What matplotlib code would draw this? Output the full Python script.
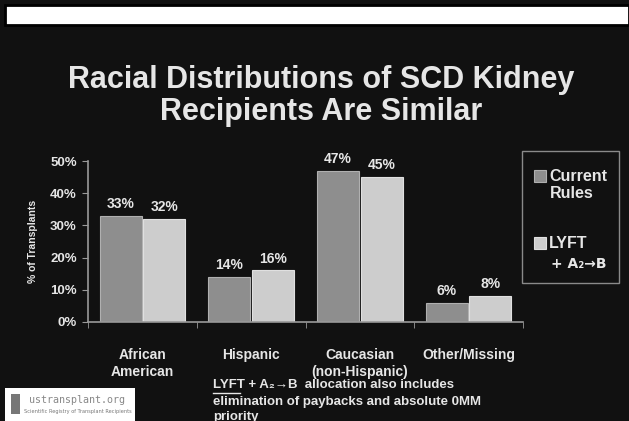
import matplotlib.pyplot as plt
import matplotlib.patches as patches
import numpy as np

# data
categories = ["African\nAmerican", "Hispanic", "Caucasian\n(non-Hispanic)", "Other/Missing"]
current_rules = [33, 14, 47, 6]
lyft_a2b = [32, 16, 45, 8]
yticks = [0, 10, 20, 30, 40, 50]

BG = '#111111'
C_CUR = '#8e8e8e'
C_LYFT = '#cdcdcd'
TXT = '#e6e6e6'

W, H = 629, 421
fig = plt.figure(figsize=(W / 100, H / 100), dpi=100, facecolor=BG)


def fx(px):
    return px / W


def fy(py):
    return 1 - py / H


# white band on top
fig.patches.append(patches.Rectangle((fx(5), fy(25)), 1 - fx(5), fy(5) - fy(25),
                                     transform=fig.transFigure, facecolor='white',
                                     edgecolor='black', linewidth=2))

# title
fig.text(0.51, fy(80), "Racial Distributions of SCD Kidney", ha='center', va='center',
         color=TXT, fontsize=22, fontweight='bold', family='Liberation Sans')
fig.text(0.51, fy(112), "Recipients Are Similar", ha='center', va='center',
         color=TXT, fontsize=22, fontweight='bold', family='Liberation Sans')

ax = fig.add_axes([fx(88), fy(322), fx(523) - fx(88), fy(161) - fy(322)])
ax.set_facecolor(BG)

x = np.arange(len(categories))
bw = 0.385
off = 0.2
b1 = ax.bar(x - off, current_rules, bw, color=C_CUR, edgecolor='#b0b0b0', linewidth=0.8)
b2 = ax.bar(x + off, lyft_a2b, bw, color=C_LYFT, edgecolor='#e0e0e0', linewidth=0.8)
for bars, vals in ((b1, current_rules), (b2, lyft_a2b)):
    for b, v in zip(bars, vals):
        ax.text(b.get_x() + b.get_width() / 2, v + 1.5, f"{v}%", ha='center', va='bottom',
                color=TXT, fontsize=10, fontweight='bold', family='Liberation Sans')

ax.set_xlim(-0.5, 3.5)
ax.set_ylim(0, 50)
ax.set_yticks(yticks)
ax.set_yticklabels([f"{t}%" for t in yticks], color=TXT, fontsize=9.5, fontweight='bold',
                   family='Liberation Sans')
ax.set_xticks(x)
ax.set_xticklabels(categories, color=TXT, fontsize=10, fontweight='bold',
                   family='Liberation Sans', linespacing=1.2)
ax.tick_params(axis='x', length=0, pad=19)
ax.set_xticks(np.arange(-0.5, 4, 1), minor=True)
ax.tick_params(axis='x', which='minor', length=4, color='#999999', direction='out')
ax.tick_params(axis='y', length=4, color='#999999', pad=4)
for s in ('top', 'right'):
    ax.spines[s].set_visible(False)
for s in ('left', 'bottom'):
    ax.spines[s].set_color('#999999')
    ax.spines[s].set_linewidth(1.2)
ax.set_ylabel("% of Transplants", color=TXT, fontsize=7.5, fontweight='bold',
              family='Liberation Sans', labelpad=9)

# legend box
fig.patches.append(patches.Rectangle((fx(522), fy(283)), fx(619) - fx(522), fy(151) - fy(283),
                                     transform=fig.transFigure, facecolor=BG,
                                     edgecolor='#8a8a8a', linewidth=1))
fig.patches.append(patches.Rectangle((fx(534), fy(182)), fx(12), fy(170) - fy(182),
                                     transform=fig.transFigure, facecolor=C_CUR,
                                     edgecolor='#b0b0b0', linewidth=0.8))
fig.patches.append(patches.Rectangle((fx(534), fy(249)), fx(12), fy(237) - fy(249),
                                     transform=fig.transFigure, facecolor=C_LYFT,
                                     edgecolor='#e0e0e0', linewidth=0.8))
leg_kw = dict(color=TXT, fontsize=11.5, fontweight='bold', family='Liberation Sans', va='center')
fig.text(fx(549), fy(176), "Current", **leg_kw)
fig.text(fx(550), fy(193), "Rules", **leg_kw)
fig.text(fx(549), fy(243), "LYFT", **leg_kw)
fig.text(fx(551), fy(264), "+ A\u2082\u2192B", color=TXT, fontsize=10, fontweight='bold',
         family='DejaVu Sans', va='center')

# footnote
foot_kw = dict(color=TXT, fontsize=9.5, fontweight='bold', family='Liberation Sans', va='center')
fig.text(fx(213), fy(385), "LYFT + A\u2082\u2192B  allocation also includes", **foot_kw)
fig.lines.append(plt.Line2D([fx(213), fx(240)], [fy(393), fy(393)], transform=fig.transFigure,
                            color=TXT, linewidth=1))
fig.text(fx(213), fy(402), "elimination of paybacks and absolute 0MM", **foot_kw)
fig.text(fx(213), fy(417), "priority", **foot_kw)

# logo box
fig.patches.append(patches.Rectangle((fx(5), 0), fx(135) - fx(5), fy(388),
                                     transform=fig.transFigure, facecolor='white',
                                     edgecolor='none'))
fig.patches.append(patches.Rectangle((fx(11), fy(414)), fx(9), fy(394) - fy(414),
                                     transform=fig.transFigure, facecolor='#777777',
                                     edgecolor='none'))
fig.text(fx(29), fy(400), "ustransplant.org", color='#888888', fontsize=7.2,
         family='DejaVu Sans Mono', va='center')
fig.text(fx(24), fy(411), "Scientific Registry of Transplant Recipients", color='#777777',
         fontsize=3.6, va='center')

fig.savefig("out.png", dpi=100, facecolor=BG)
